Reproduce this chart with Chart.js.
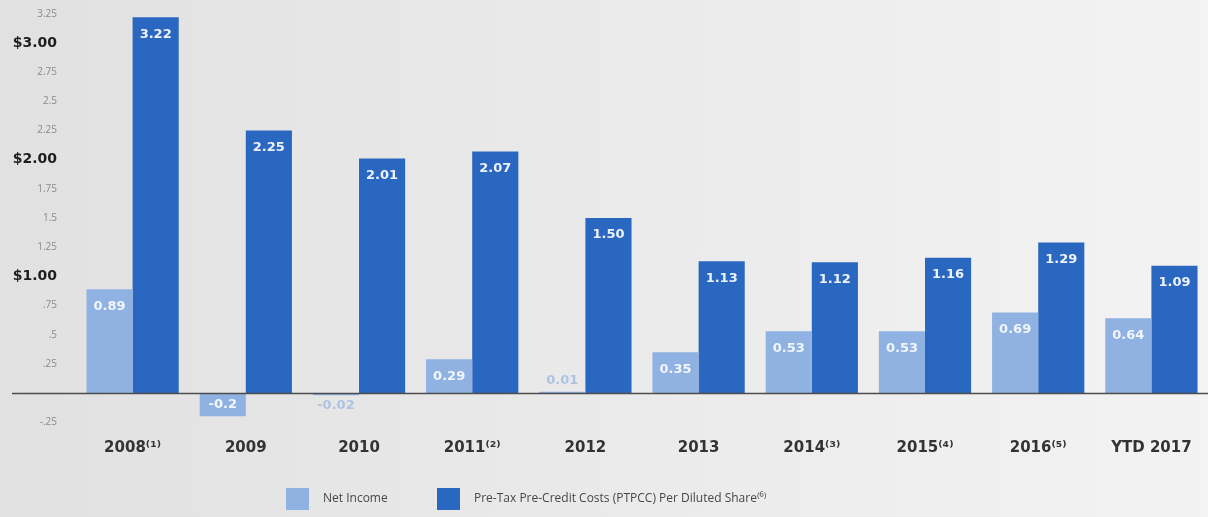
<!DOCTYPE html>
<html>
<head>
<meta charset="utf-8">
<script src="https://cdn.jsdelivr.net/npm/chart.js@4.4.1/dist/chart.umd.min.js"></script>
<style>
  html, body { margin: 0; padding: 0; }
  body {
    width: 1208px; height: 517px; overflow: hidden;
    background: linear-gradient(to right, #e1e1e1 0%, #e9e9e9 45%, #f3f3f3 100%);
  }
  canvas { display: block; }
</style>
</head>
<body>
<canvas id="chart" width="1208" height="517"></canvas>
<script>
// Categories (years) and the two per-share series
const years = ['2008⁽¹⁾', '2009', '2010', '2011⁽²⁾', '2012', '2013', '2014⁽³⁾', '2015⁽⁴⁾', '2016⁽⁵⁾', 'YTD 2017'];
const netIncome = [0.89, -0.2, -0.02, 0.29, 0.01, 0.35, 0.53, 0.53, 0.69, 0.64];
const ptpcc = [3.22, 2.25, 2.01, 2.07, 1.50, 1.13, 1.12, 1.16, 1.29, 1.09];

const seriesNames = ['Net Income', 'Pre-Tax Pre-Credit Costs (PTPCC) Per Diluted Share⁽⁶⁾'];
const seriesColors = ['#8fb2e2', '#2a67c1'];

// Value axis ticks and their printed labels
const yTickValues = [-0.25, 0, 0.25, 0.5, 0.75, 1, 1.25, 1.5, 1.75, 2, 2.25, 2.5, 2.75, 3, 3.25];
const yTickLabels = ['-.25', '', '.25', '.5', '.75', '$1.00', '1.25', '1.5', '1.75', '$2.00', '2.25', '2.5', '2.75', '$3.00', '3.25'];

// Printed value text for each series
const labelFormat = [v => String(v), v => v.toFixed(2)];

const FONT = '"DejaVu Sans", sans-serif';

const isWholeDollar = ctx => !!(ctx && ctx.tick && Number.isInteger(ctx.tick.value));

// Baseline drawn across the whole width at zero
const zeroLine = {
  id: 'zeroLine',
  afterDatasetsDraw(chart) {
    const { ctx, scales: { y } } = chart;
    const py = Math.round(y.getPixelForValue(0)) + 0.5;
    ctx.save();
    ctx.strokeStyle = '#4d4d4d';
    ctx.lineWidth = 1.6;
    ctx.beginPath();
    ctx.moveTo(12, py);
    ctx.lineTo(chart.width, py);
    ctx.stroke();
    ctx.restore();
  }
};

// Value labels near the end of each bar
const barLabels = {
  id: 'barLabels',
  afterDatasetsDraw(chart) {
    const { ctx } = chart;
    ctx.save();
    ctx.font = 'bold 13px ' + FONT;
    ctx.textAlign = 'center';
    ctx.textBaseline = 'middle';
    chart.data.datasets.forEach((ds, di) => {
      const meta = chart.getDatasetMeta(di);
      meta.data.forEach((bar, i) => {
        const v = ds.data[i];
        const text = labelFormat[di](v);
        const h = Math.abs(bar.base - bar.y);
        let ty, color;
        if (h < 18) {
          // too short to hold the text: place it just beyond the bar end
          ty = v >= 0 ? bar.y - 11 : bar.y + 10;
          color = '#aec3e3';
        } else if (v < 0) {
          ty = (bar.y + bar.base) / 2;
          color = 'rgba(255,255,255,0.9)';
        } else {
          ty = bar.y + 17;
          color = di === 0 ? 'rgba(255,255,255,0.88)' : '#eef3fb';
        }
        ctx.fillStyle = color;
        ctx.fillText(text, bar.x, ty);
      });
    });
    ctx.restore();
  }
};

// Legend row under the axis labels
const legendRow = {
  id: 'legendRow',
  afterDraw(chart) {
    const { ctx } = chart;
    const items = [
      { box: 286, text: 323 },
      { box: 437, text: 474 }
    ];
    const cy = 499;
    ctx.save();
    ctx.font = '12px "Open Sans", sans-serif';
    ctx.textBaseline = 'middle';
    ctx.textAlign = 'left';
    chart.data.datasets.forEach((ds, i) => {
      ctx.fillStyle = ds.backgroundColor;
      ctx.fillRect(items[i].box, cy - 11, 23, 22);
      ctx.fillStyle = '#474747';
      ctx.fillText(ds.label, items[i].text, cy);
    });
    ctx.restore();
  }
};

new Chart(document.getElementById('chart'), {
  type: 'bar',
  data: {
    labels: years,
    datasets: [
      { label: seriesNames[0], data: netIncome, backgroundColor: seriesColors[0] },
      { label: seriesNames[1], data: ptpcc, backgroundColor: seriesColors[1] }
    ]
  },
  options: {
    responsive: false,
    animation: false,
    devicePixelRatio: 1,
    layout: { padding: { top: 8, right: 0, bottom: 49, left: 0 } },
    datasets: {
      bar: { categoryPercentage: 0.815, barPercentage: 1.0, borderWidth: 0 }
    },
    plugins: {
      legend: { display: false },
      tooltip: { enabled: false }
    },
    scales: {
      x: {
        grid: { display: false, drawTicks: false },
        border: { display: false },
        ticks: {
          autoSkip: false,
          maxRotation: 0,
          padding: 11,
          color: '#333333',
          font: { family: FONT, size: 15, weight: 'bold' }
        }
      },
      y: {
        min: -0.3,
        max: 3.3,
        grid: { display: false, drawTicks: true, tickLength: 19 },
        border: { display: false },
        afterBuildTicks(scale) {
          scale.ticks = yTickValues.map(v => ({ value: v }));
        },
        afterFit(scale) { scale.width = 76; },
        ticks: {
          padding: 0,
          callback(value) {
            const idx = yTickValues.findIndex(t => Math.abs(t - value) < 1e-9);
            return idx >= 0 ? yTickLabels[idx] : '';
          },
          color: ctx => isWholeDollar(ctx) ? '#1e1e1e' : '#8a8a8a',
          font: ctx => isWholeDollar(ctx)
            ? { family: FONT, size: 14, weight: 'bold' }
            : { family: '"Open Sans", sans-serif', size: 10, weight: 'normal' }
        }
      }
    }
  },
  plugins: [zeroLine, barLabels, legendRow]
});
</script>
</body>
</html>
